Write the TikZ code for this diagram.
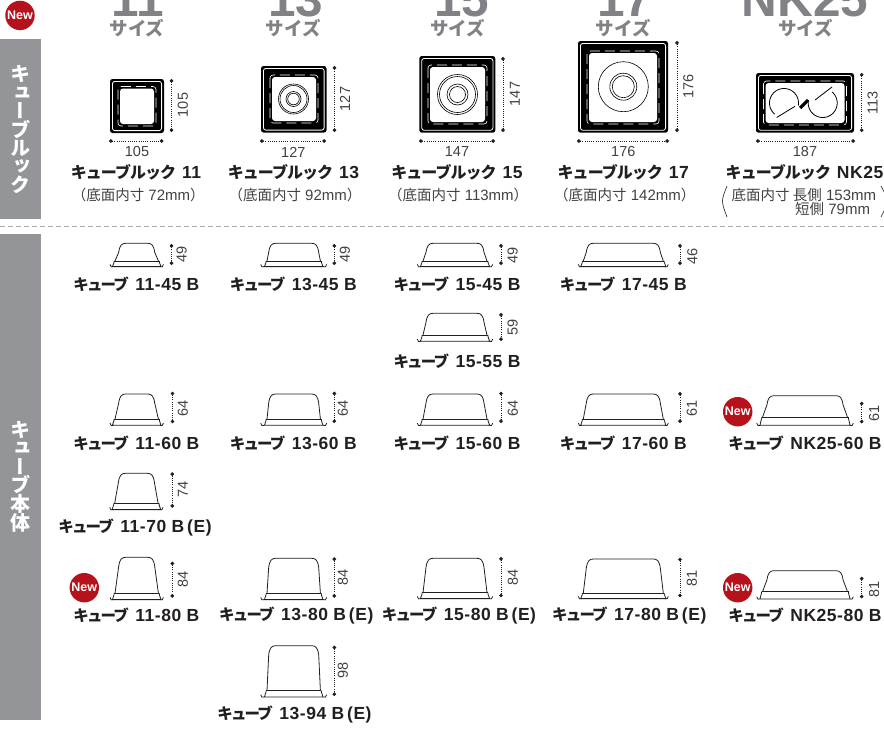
\documentclass[tikz,border=0pt]{standalone}
\usepackage{fontspec}
\usetikzlibrary{arrows.meta}
\setmainfont{Liberation Sans}
\newfontfamily\jp{Noto Sans CJK JP}
\newfontfamily\jpm{Noto Sans CJK JP}[LetterSpace=-12]
\newfontfamily\jpl{Noto Sans CJK JP}[LetterSpace=-6]
\newfontfamily\jpv{Noto Sans CJK JP}[RawFeature=+vert]
\newfontfamily\latb{Liberation Sans}[LetterSpace=3]
\definecolor{barg}{HTML}{939598}
\definecolor{headg}{HTML}{808285}
\definecolor{ink}{HTML}{231F20}
\definecolor{soft}{HTML}{414042}
\definecolor{dashg}{HTML}{A7A9AC}
\definecolor{newred}{HTML}{B5121B}
\tikzset{
  x=1pt,y=-1pt,
  sidebar/.style={fill=barg,draw=none},
  bartext/.style={text=white,align=center,inner sep=0pt,font=\jpv\bfseries\fontsize{20}{18.4}\selectfont},
  bignum/.style={text=headg,anchor=base,inner sep=0pt,font=\bfseries\fontsize{49.5}{50}\selectfont},
  sizetext/.style={text=headg,inner sep=0pt,font=\jp\bfseries\fontsize{18.5}{20}\selectfont},
  numtext/.style={text=soft,inner sep=0pt,font=\fontsize{14.5}{16}\selectfont},
  numrot/.style={numtext,rotate=90},
  modeltext/.style={text=ink,inner sep=0pt},
  subtext/.style={text=soft,inner sep=0pt,font=\fontsize{15}{15}\selectfont},
  dimline/.style={draw=ink,line width=0.8pt,dash pattern=on 0.8pt off 1.4pt,{Circle[length=3.6pt]}-{Circle[length=3.6pt]}},
  cupline/.style={draw=ink,line width=0.8pt,line join=round},
  badge/.style={circle,fill=newred,minimum size=29.4pt,inner sep=0pt,text=white,font=\bfseries\fontsize{12.5}{13}\selectfont},
}
% small black-framed tray seen from above
\newcommand\trayframe[8]{%
  \fill[black,rounded corners=2.5pt] (#1,#2) rectangle (#3,#4);
  \draw[white,line width=0.8pt,rounded corners=2.5pt] ({#1+2.4},{#2+2.4}) rectangle ({#3-2.4},{#4-2.4});
  \draw[white,line width=0.6pt,dash pattern=on 10pt off 5pt,rounded corners=3pt] ({#5-2},{#6-2}) rectangle ({#7+2},{#8+2});
  \fill[white,rounded corners=3pt] (#5,#6) rectangle (#7,#8);
}
% side view of a cup: cx, half width feet, half width rim, half width top, top y, rim y, bottom y
\newcommand\sidecup[7]{%
  \draw[cupline] ({#1-#3},#6) -- ({#1-#4},{#5+9}) .. controls ({#1-#4+1},{#5+2}) and ({#1-#4+3},#5) .. ({#1-#4+7},#5)
     -- ({#1+#4-7},#5) .. controls ({#1+#4-3},#5) and ({#1+#4-1},{#5+2}) .. ({#1+#4},{#5+9}) -- ({#1+#3},#6);
  \draw[cupline] ({#1-#3-1},#6) -- ({#1+#3+1},#6);
  \draw[cupline] ({#1-#3-1},#6) -- ({#1-#3-1},{#6+1.5}) -- ({#1-#3-2.6},{#7-0.4}) -- ({#1+#3+2.6},{#7-0.4}) -- ({#1+#3+1},{#6+1.5}) -- ({#1+#3+1},#6);
  \draw[cupline] ({#1-#2},{#7-2.6}) .. controls ({#1-#2+0.2},{#7+0.3}) and ({#1-#2+2},{#7+0.3}) .. ({#1-#2+3.4},{#7-0.4}) -- ({#1-#3-2.6},{#7-0.4});
  \draw[cupline] ({#1+#2},{#7-2.6}) .. controls ({#1+#2-0.2},{#7+0.3}) and ({#1+#2-2},{#7+0.3}) .. ({#1+#2-3.4},{#7-0.4}) -- ({#1+#3+2.6},{#7-0.4});
}
% dimension: name, x1,y1,x2,y2
\newcommand\measure[5]{%
  \coordinate (#1a) at (#2,#3);
  \coordinate (#1b) at (#4,#5);
  \draw[dimline] (#1a) -- (#1b);
}
% model label
\newcommand\modelname[5]{%
  \node[modeltext] (#1) at (#2,#3) {{\jpm\bfseries\fontsize{15.5}{16}\selectfont #4}\hspace{6.5pt}{\latb\bfseries\fontsize{17.5}{18}\selectfont #5}};
}
\newcommand\lookname[5]{%
  \node[modeltext] (#1) at (#2,#3) {{\jpl\bfseries\fontsize{16}{17}\selectfont #4}\hspace{6pt}{\latb\bfseries\fontsize{17.5}{18}\selectfont #5}};
}
\newcommand\botname[4]{%
  \node[subtext] (#1) at ({#2+1.5},#3) {{\jp\fontsize{14.5}{15}\selectfont （底面内寸} #4{\jp\fontsize{14.5}{15}\selectfont ）}};
}
\begin{document}
\begin{tikzpicture}
\useasboundingbox (0,0) rectangle (884,729);
\clip (0,0) rectangle (884,729);
% side bars
\fill[sidebar] (0,39.3) rectangle (41,219);
\fill[sidebar] (0,234) rectangle (41,720);
\node[bartext] (barLook) at (20,129.5) {キ\\ュ\\ー\\ブ\\ル\\ッ\\ク};
\node[bartext] (barBody) at (20,477) {キ\\ュ\\ー\\ブ\\本\\体};
\draw[dashg,line width=0.9pt,dash pattern=on 5pt off 3pt] (0,226) -- (884,226);
% badges
\node[badge] (new1) at (20,15.4) {New};
\node[badge] (new2) at (84.3,587.7) {New};
\node[badge] (new3) at (737.7,411.7) {New};
\node[badge] (new4) at (737.7,587.7) {New};
% headers
\node[bignum] (h11) at (138,16) {11};
\node[bignum] (h13) at (296,16) {13};
\node[bignum] (h15) at (462,16) {15};
\node[bignum] (h17) at (625,16) {17};
\node[bignum] (hNK) at (805,16) {NK25};
\node[sizetext] (s11) at (137,28.5) {サイズ};
\node[sizetext] (s13) at (293.3,28.5) {サイズ};
\node[sizetext] (s15) at (457.7,28.5) {サイズ};
\node[sizetext] (s17) at (623.3,28.5) {サイズ};
\node[sizetext] (sNK) at (805.7,28.5) {サイズ};
% ---- top views
\trayframe{110}{79}{164}{133}{120}{88.5}{154}{124}
\trayframe{261}{66}{326.5}{132.5}{272}{77}{316}{121}
\foreach \r in {15,13.5,7.5,5.8} \draw[black,line width=0.6pt] (293.5,99) circle[radius=\r];
\trayframe{419.3}{56}{495.3}{132.7}{430}{67}{485}{122}
\foreach \r in {20,18,10.5,8} \draw[black,line width=0.6pt] (457.5,94.5) circle[radius=\r];
\trayframe{578}{41}{668}{132.7}{589}{53}{657}{122}
\foreach \r in {25,13.5,11} \draw[black,line width=0.6pt] (623.3,86.7) circle[radius=\r];
\trayframe{756}{73}{854}{132.7}{765.5}{83}{844.5}{123}
\draw[black,line width=0.8pt] plot[domain=130:370,samples=50] ({784+14.5*cos(\x)},{103+14.5*sin(\x)});
\draw[black,line width=0.8pt] plot[domain=310:550,samples=50] ({822.7+14.5*cos(\x)},{103+14.5*sin(\x)});
\draw[black,line width=0.8pt] (776.7,117.5) -- (795,106.3);
\draw[black,line width=0.8pt] (815,100) -- (832,87);
\draw[black,line width=3.2pt] (800,108) -- (808,100);
% ---- top dims
\measure{d11v}{171.5}{79}{171.5}{132}
\node[numrot] (n11v) at (183,105) {105};
\measure{d11h}{109}{141}{163.5}{141}
\node[numtext] (n11h) at (137,152) {105};
\lookname{l11}{136}{172.7}{キューブルック}{11}
\botname{b11}{136.7}{195}{72mm}
\measure{d13v}{334.5}{66}{334.5}{132}
\node[numrot] (n13v) at (345,99) {127};
\measure{d13h}{260}{141}{326}{141}
\node[numtext] (n13h) at (293.3,152) {127};
\lookname{l13}{293.5}{172.7}{キューブルック}{13}
\botname{b13}{293.5}{195}{92mm}
\measure{d15v}{503}{57}{503}{132}
\node[numrot] (n15v) at (515,94) {147};
\measure{d15h}{419}{141}{495}{141}
\node[numtext] (n15h) at (457,152) {147};
\lookname{l15}{457}{172.7}{キューブルック}{15}
\botname{b15}{456.7}{195}{113mm}
\measure{d17v}{677}{41}{677}{132}
\node[numrot] (n17v) at (688.3,86.7) {176};
\measure{d17h}{577}{141}{669}{141}
\node[numtext] (n17h) at (623.3,152) {176};
\lookname{l17}{623.3}{172.7}{キューブルック}{17}
\botname{b17}{623.3}{195}{142mm}
\measure{dNKv}{861.7}{73}{861.7}{132}
\node[numrot] (nNKv) at (872.7,103.3) {113};
\measure{dNKh}{756}{141}{855}{141}
\node[numtext] (nNKh) at (805,152) {187};
\lookname{lNK}{804.5}{172.7}{キューブルック}{NK25}
\node[subtext,anchor=west] (bNKa) at (731.5,195) {{\jp\fontsize{14.5}{15}\selectfont 底面内寸 長側} 153mm};
\node[subtext,anchor=west] (bNKb) at (795,209) {{\jp\fontsize{14.5}{15}\selectfont 短側} 79mm};
\draw[ink,line width=0.6pt] (727,186) .. controls (721,201) .. (727,217);
\draw[ink,line width=0.6pt] (881,186) .. controls (889,201) .. (881,217);
% ---- column 11
\sidecup{136.7}{26.7}{21.7}{18}{243.3}{261}{267}
\measure{a1}{171.5}{244}{171.5}{265}
\node[numrot] (a1n) at (181.7,254) {49};
\modelname{a1l}{136.4}{284}{キューブ}{11-45 B}
\sidecup{136.7}{26.7}{21.7}{18}{394}{419}{425.7}
\measure{a2}{172.5}{391.7}{172.5}{423.3}
\node[numrot] (a2n) at (183,408) {64};
\modelname{a2l}{136.4}{443}{キューブ}{11-60 B}
\sidecup{136.4}{26.7}{21.7}{18}{473.3}{503.3}{510}
\measure{a3}{172.3}{472.3}{172.3}{507.7}
\node[numrot] (a3n) at (183,489) {74};
\modelname{a3l}{135}{528}{キューブ}{11-70 B\,(E)}
\sidecup{136.7}{26.7}{21.7}{18}{557.3}{593.3}{600}
\measure{a4}{172.3}{561.7}{172.3}{597.7}
\node[numrot] (a4n) at (183,579) {84};
\modelname{a4l}{136.4}{615.7}{キューブ}{11-80 B}
% ---- column 13
\sidecup{293.7}{33}{26.7}{25}{243.3}{261}{267}
\measure{b1}{334.3}{244}{334.3}{265}
\node[numrot] (b1n) at (345,254) {49};
\modelname{b1l}{293.3}{284}{キューブ}{13-45 B}
\sidecup{293.7}{33}{26.7}{25}{394}{419}{425.7}
\measure{b2}{334.3}{391.7}{334.3}{423}
\node[numrot] (b2n) at (343,408) {64};
\modelname{b2l}{293.3}{443}{キューブ}{13-60 B}
\sidecup{293.7}{33}{26.7}{25}{558.3}{593.3}{600}
\measure{b3}{334.3}{557.3}{334.3}{597.7}
\node[numrot] (b3n) at (343,577.7) {84};
\modelname{b3l}{296.3}{615.7}{キューブ}{13-80 B\,(E)}
\sidecup{293.7}{33}{26.7}{25}{645.7}{690.7}{697.3}
\measure{b4}{334.3}{645.7}{334.3}{696}
\node[numrot] (b4n) at (343,670) {98};
\modelname{b4l}{294.5}{715}{キューブ}{13-94 B\,(E)}
% ---- column 15
\sidecup{455}{37.7}{32}{29}{243.3}{261}{267}
\measure{c1}{501}{244}{501}{265}
\node[numrot] (c1n) at (512.7,255) {49};
\modelname{c1l}{457}{284}{キューブ}{15-45 B}
\sidecup{455}{37.7}{32}{29}{313.3}{335}{341.7}
\measure{c2}{501}{313}{501}{341}
\node[numrot] (c2n) at (512.7,327.7) {59};
\modelname{c2l}{457}{361}{キューブ}{15-55 B}
\sidecup{455}{37.7}{32}{29}{394}{419}{425.7}
\measure{c3}{501}{391.7}{501}{423}
\node[numrot] (c3n) at (513,408) {64};
\modelname{c3l}{457}{443}{キューブ}{15-60 B}
\sidecup{455}{37.7}{32}{29}{558.3}{592.7}{599}
\measure{c4}{501}{557}{501}{597.3}
\node[numrot] (c4n) at (513,577.7) {84};
\modelname{c4l}{459}{615.7}{キューブ}{15-80 B\,(E)}
% ---- column 17
\sidecup{623.3}{45}{40}{37}{243.3}{261}{267}
\measure{e1}{680}{244}{680}{265}
\node[numrot] (e1n) at (692.3,256.7) {46};
\modelname{e1l}{623.3}{284}{キューブ}{17-45 B}
\sidecup{623.3}{45}{40}{37}{394}{419}{425.7}
\measure{e2}{680}{392}{680}{423}
\node[numrot] (e2n) at (692,408) {61};
\modelname{e2l}{623.3}{443}{キューブ}{17-60 B}
\sidecup{623.3}{45}{40}{37}{559}{593}{599}
\measure{e3}{680}{557.7}{680}{597.3}
\node[numrot] (e3n) at (692,578) {81};
\modelname{e3l}{629.3}{615.7}{キューブ}{17-80 B\,(E)}
% ---- column NK25
\sidecup{805}{48.3}{42.5}{38}{395.7}{417.3}{425.7}
\measure{f1}{861.7}{401.7}{861.7}{423.3}
\node[numrot] (f1n) at (874,413) {61};
\modelname{f1l}{805}{443}{キューブ}{NK25-60 B}
\sidecup{805}{48.3}{42.5}{38}{570.7}{591.7}{599.3}
\measure{f2}{861.7}{576.7}{861.7}{598.3}
\node[numrot] (f2n) at (874,589) {81};
\modelname{f2l}{805}{615.7}{キューブ}{NK25-80 B}
\end{tikzpicture}
\end{document}
